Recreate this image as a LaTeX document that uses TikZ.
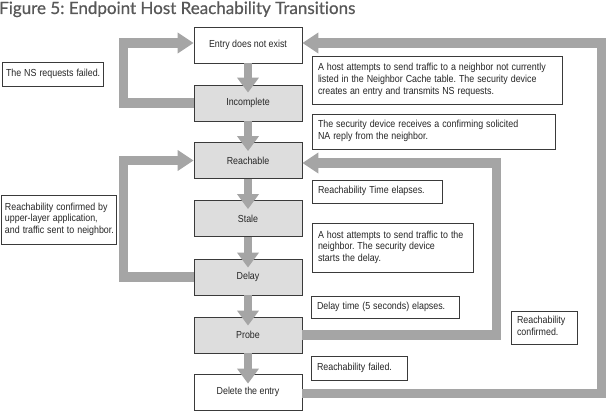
\documentclass[tikz,border=0pt]{standalone}
\usepackage{fontspec}
\usepackage{graphicx}
\setmainfont{Liberation Sans}
\newfontfamily\titlefont[Ligatures=NoCommon,FakeBold=0.6]{Lato}
\usetikzlibrary{arrows.meta}
\definecolor{arrowgray}{HTML}{A5A5A5}
\definecolor{boxgray}{HTML}{DDDDDD}
\definecolor{linegray}{HTML}{3A3A3A}
\definecolor{titlegray}{HTML}{585858}
\definecolor{txt}{HTML}{262626}
\frenchspacing
\newcommand{\cond}[1]{\noindent\scalebox{0.87}[1]{\begin{tabular}{@{}l@{}}#1\end{tabular}}}
\newcommand{\condc}[1]{\scalebox{0.87}[1]{#1}}
\begin{document}
\begin{tikzpicture}[x=1pt,y=-1pt,
  font=\fontsize{10.2}{11.7}\selectfont,
  statebox/.style={draw=linegray, line width=0.8pt, minimum width=108pt, minimum height=36pt, inner sep=0pt, text=txt},
  shaded/.style={statebox, fill=boxgray},
  plainbox/.style={statebox, fill=white},
  note/.style={draw=linegray, line width=0.8pt, fill=white, align=left, inner xsep=6pt, inner ysep=0pt, text=txt},
  vflow/.style={draw=arrowgray, line width=8.5pt, -{Triangle[length=15pt,width=21pt]}},
  loopflow/.style={draw=arrowgray, line width=9.5pt, line join=miter, -{Triangle[length=16pt,width=20pt]}}
]
\useasboundingbox (0,0) rectangle (610,411);
\node[anchor=base west, font=\titlefont\fontsize{17}{20}\selectfont, text=titlegray, inner sep=0pt] (title) at (-1,14) {Figure 5: Endpoint Host Reachability Transitions};

% states
\node[plainbox] (entry) at (248,45) {\condc{Entry does not exist}};
\node[shaded] (incomplete) at (248,103) {\condc{Incomplete}};
\node[shaded] (reachable) at (248,160.5) {\condc{Reachable}};
\node[shaded] (stale) at (248,218.5) {\condc{Stale}};
\node[shaded] (delay) at (248,277) {\condc{Delay}};
\node[shaded] (probe) at (248,335) {\condc{Probe}};
\node[plainbox] (delete) at (248,392) {\condc{Delete the entry}};

% notes
\node[note, text width=93pt, minimum height=24pt, inner xsep=4pt] (n1) at (52.5,74) {\cond{The NS requests failed.}};
\node[note, text width=107pt, minimum height=49pt, inner xsep=4pt] (n2) at (58.5,219.5) {\cond{Reachability confirmed by\\upper-layer application,\\and traffic sent to neighbor.}};
\node[note, text width=238pt, minimum height=48pt] (n3) at (437,80) {\cond{A host attempts to send traffic to a neighbor not currently\\listed in the Neighbor Cache table. The security device\\creates an entry and transmits NS requests.}};
\node[note, text width=231pt, minimum height=35pt] (n4) at (433.5,131.5) {\cond{The security device receives a confirming solicited\\NA reply from the neighbor.}};
\node[note, text width=118pt, minimum height=23pt] (n5) at (377,191.5) {\cond{Reachability Time elapses.}};
\node[note, text width=149pt, minimum height=49pt] (n6) at (392.5,247.5) {\cond{A host attempts to send traffic to the\\neighbor. The security device\\starts the delay.}};
\node[note, text width=136pt, minimum height=22pt] (n7) at (385,307) {\cond{Delay time (5 seconds) elapses.}};
\node[note, text width=84pt, minimum height=24pt] (n8) at (359,368) {\cond{Reachability failed.}};
\node[note, text width=54pt, minimum height=33pt] (n9) at (544,327.5) {\cond{Reachability\\confirmed.}};

% vertical transitions
\draw[vflow] (entry.south) -- ([yshift=-8pt]incomplete.north);
\draw[vflow] (incomplete.south) -- ([yshift=-9pt]reachable.north);
\draw[vflow] (reachable.south) -- ([yshift=-9pt]stale.north);
\draw[vflow] (stale.south) -- ([yshift=-9pt]delay.north);
\draw[vflow] (delay.south) -- ([yshift=-9pt]probe.north);
\draw[vflow] (probe.south) -- ([yshift=-10pt]delete.north);

% loops
\draw[loopflow] (incomplete.west) -- ++(-70,0) |- ([yshift=2pt]entry.west);
\draw[loopflow] (delay.west) -- ++(-70,0) |- (reachable.west);
\draw[loopflow] (probe.east) -- ++(194,0) |- ([yshift=-2.5pt]reachable.east);
\draw[loopflow] ([yshift=-1.5pt]delete.east) -- ++(299,0) |- ([yshift=2pt]entry.east);
\end{tikzpicture}
\end{document}
